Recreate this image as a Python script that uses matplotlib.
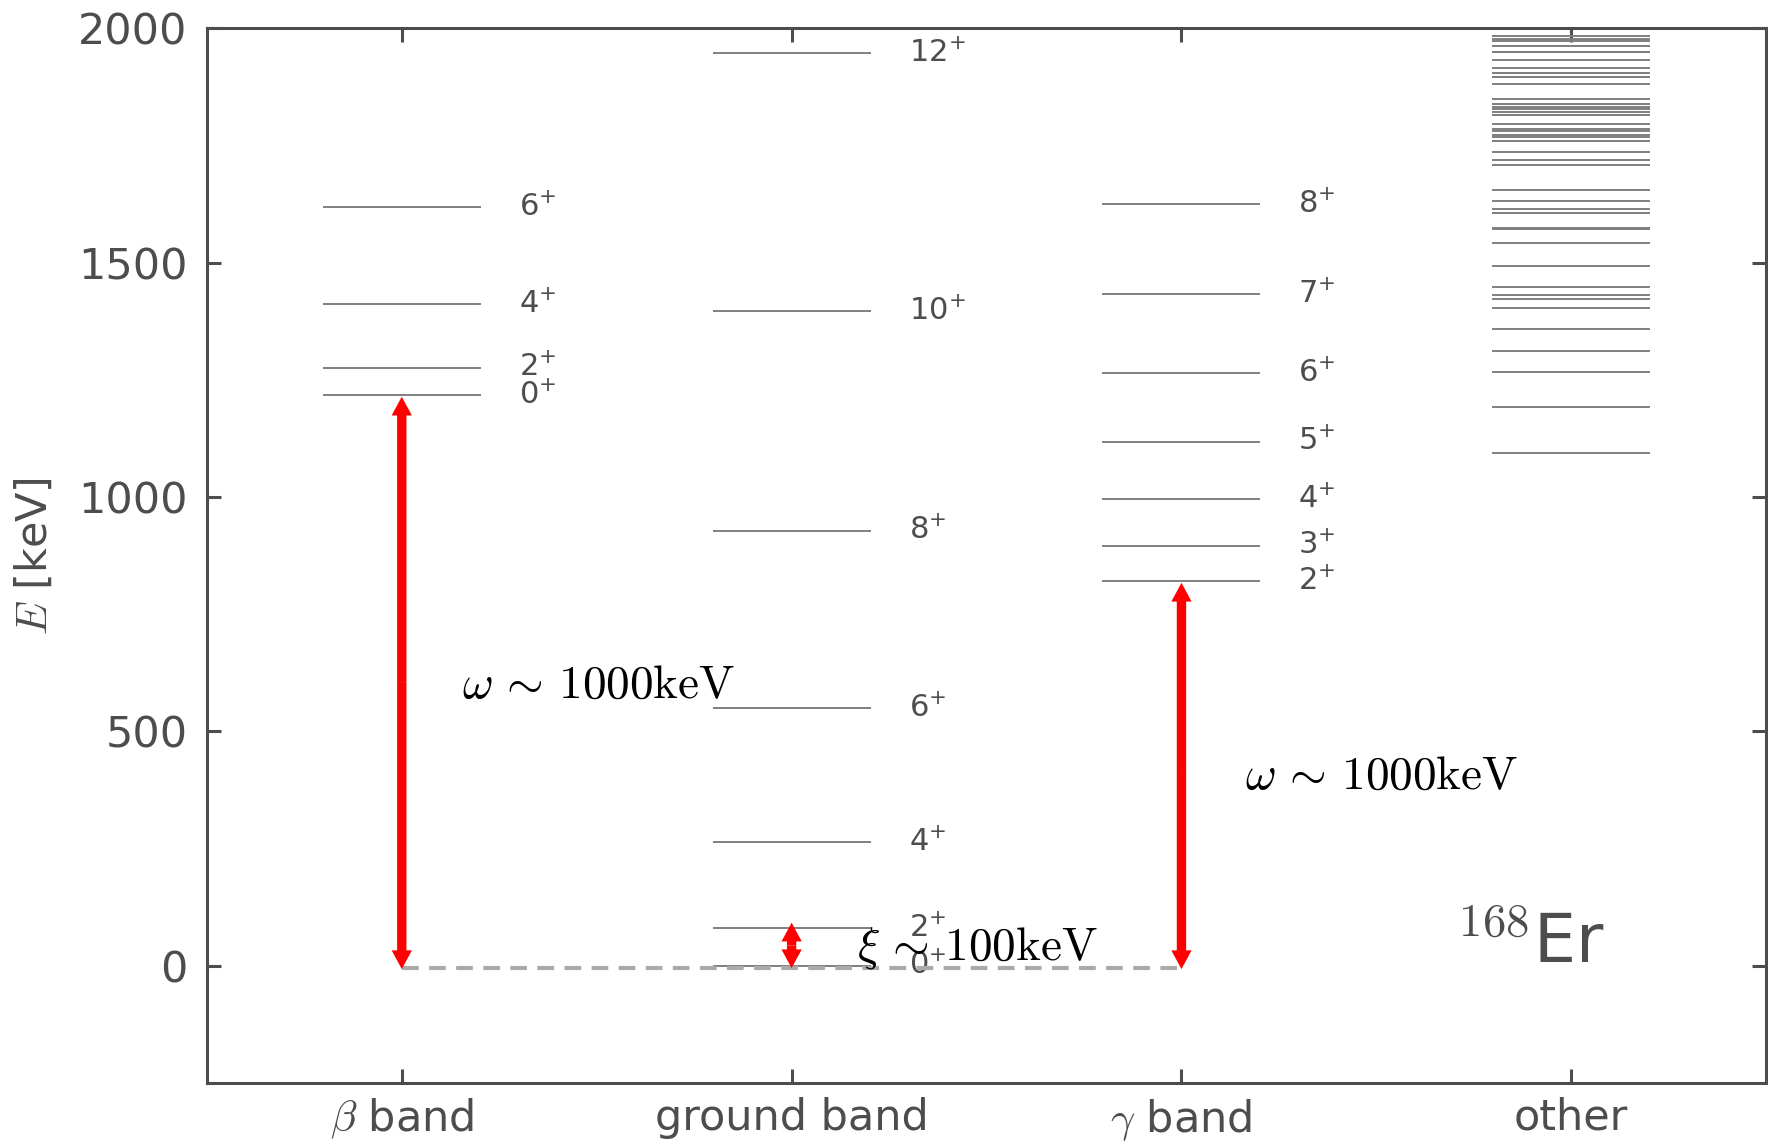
import matplotlib
matplotlib.use("Agg")
import matplotlib.pyplot as plt
from matplotlib.ticker import MultipleLocator

# ---- data ----
band_names = [r"$\beta$ band", "ground band", r"$\gamma$ band", "other"]

beta_E = [1217, 1276, 1411, 1618]
beta_J = ["0", "2", "4", "6"]

ground_E = [0, 80, 264, 549, 928, 1397, 1947]
ground_J = ["0", "2", "4", "6", "8", "10", "12"]

gamma_E = [821, 896, 995, 1118, 1264, 1433, 1625]
gamma_J = ["2", "3", "4", "5", "6", "7", "8"]

other_E = [1094, 1193, 1266, 1311, 1359, 1404, 1422, 1431, 1449, 1493,
           1542, 1571, 1574, 1606, 1615, 1632, 1655, 1708, 1719, 1737,
           1760, 1767, 1773, 1780, 1786, 1796, 1815, 1821, 1827, 1833,
           1838, 1850, 1882, 1895, 1896, 1904, 1915, 1933, 1949, 1950,
           1963, 1973, 1978, 1983]

# arrows: (band index, lower energy, upper energy)
arrows = [(0, -7, 1214), (1, -5, 92), (2, -7, 817)]

DARK = "#4d4d4d"
LEVEL = "#7f7f7f"

plt.rcParams["font.family"] = ["DejaVu Sans"]
fig = plt.figure(figsize=(8.84, 5.72), dpi=200)
ax = fig.add_axes([0.117, 0.0533, 0.882, 0.922])

hw = 0.2
for xi, (E, J) in enumerate([(beta_E, beta_J), (ground_E, ground_J), (gamma_E, gamma_J)]):
    for e, j in zip(E, J):
        ax.plot([xi - hw, xi + hw], [e, e], color=LEVEL, lw=0.7, zorder=2)
        ax.text(xi + 0.3, e, r"$%s^{+}$" % j, color=DARK, fontsize=11,
                va="center", ha="left", math_fontfamily="dejavusans", zorder=3)

for e in other_E:
    ax.plot([3 - hw, 3 + hw], [e, e], color=LEVEL, lw=0.7, zorder=2)

# dashed reference line
ax.plot([0, 2], [-4, -4], color="#aaaaaa", lw=1.5, ls=(0, (4, 2.5)), zorder=4)

# double-headed arrows (two half arrows from the midpoint)
for xi, lo, hi in arrows:
    mid = 0.5 * (lo + hi)
    for end in (hi, lo):
        ax.arrow(xi, mid, 0, end - mid, width=0.024, head_width=0.052,
                 head_length=40, length_includes_head=True, color="red",
                 lw=0, zorder=5)

ax.text(0.154, 572, r"$\omega\,\sim\,1000\mathrm{keV}$", fontsize=17,
        math_fontfamily="cm", color="black", va="baseline", ha="left", zorder=6)
ax.text(2.163, 377, r"$\omega\,\sim\,1000\mathrm{keV}$", fontsize=17,
        math_fontfamily="cm", color="black", va="baseline", ha="left", zorder=6)
ax.text(1.168, 13, r"$\xi\,\sim\,100\mathrm{keV}$", fontsize=17,
        math_fontfamily="cm", color="black", va="baseline", ha="left", zorder=6)

ax.text(2.705, 5, r"$^{168}$Er", fontsize=24, math_fontfamily="cm",
        color=DARK, va="baseline", ha="left", zorder=6)

ax.set_xlim(-0.5, 3.5)
ax.set_ylim(-250, 2000)
ax.set_xticks(range(len(band_names)))
ax.set_xticklabels(band_names)
ax.yaxis.set_major_locator(MultipleLocator(500))

for lab in ax.get_xticklabels():
    lab.set_math_fontfamily("cm")

ax.tick_params(axis="both", direction="in", length=5, width=1.1, colors=DARK,
               labelsize=15.5, top=True, right=True)
ax.tick_params(axis="x", pad=5)
ax.tick_params(axis="y", pad=7)
for sp in ax.spines.values():
    sp.set_color(DARK)
    sp.set_linewidth(1.1)

ax.set_ylabel(r"$E$ [keV]", fontsize=15.5, color=DARK, math_fontfamily="cm",
              labelpad=8)

fig.savefig("out.png", dpi=200)
